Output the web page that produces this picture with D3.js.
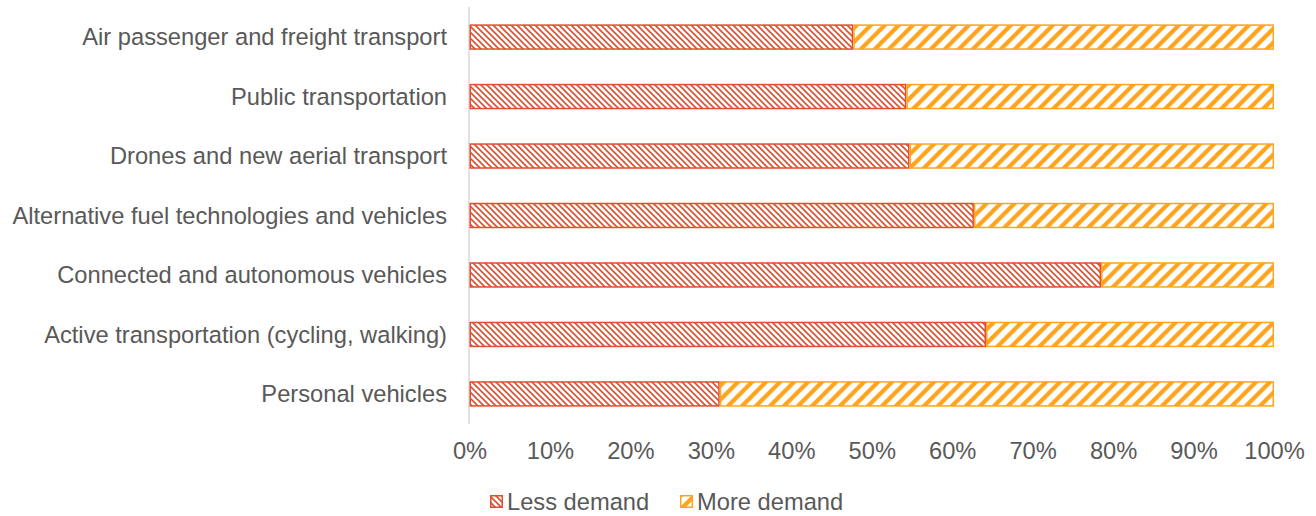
<!DOCTYPE html>
<html><head><meta charset="utf-8">
<script src="https://cdn.jsdelivr.net/npm/d3@7"></script>
<style>body{margin:0;background:#fff}svg{display:block}text{font-family:"Liberation Sans",Arial,sans-serif;fill:#595959}</style>
</head><body>
<svg id="c" width="1316" height="516"></svg>
<script>
const categories = ["Air passenger and freight transport","Public transportation","Drones and new aerial transport","Alternative fuel technologies and vehicles","Connected and autonomous vehicles","Active transportation (cycling, walking)","Personal vehicles"];
const lessDemand = [47.7, 54.3, 54.7, 62.7, 78.5, 64.2, 31.1];
const moreDemand = lessDemand.map(v => 100 - v);
const tickValues = [0,10,20,30,40,50,60,70,80,90,100];
const seriesNames = ["Less demand","More demand"];
const colors = ["#E14E2E","#FFA41C"];
const FS = 23.7;

const svg = d3.select("#c");
const defs = svg.append("defs");
const p1 = defs.append("pattern").attr("id","pLess").attr("patternUnits","userSpaceOnUse").attr("width",6).attr("height",6);
p1.append("rect").attr("width",6).attr("height",6).attr("fill","#fff");
p1.append("path").attr("d","M-1,-1 L7,7 M-4,2 L2,8 M2,-4 L8,2").attr("stroke",colors[0]).attr("stroke-width",1.6);
const p2 = defs.append("pattern").attr("id","pMore").attr("patternUnits","userSpaceOnUse").attr("width",14).attr("height",14);
p2.append("rect").attr("width",14).attr("height",14).attr("fill","#fff");
p2.append("path").attr("d","M-2,16 L16,-2 M-9,9 L9,-9 M5,23 L23,5").attr("stroke",colors[1]).attr("stroke-width",4.2);
const fills = ["url(#pLess)","url(#pMore)"];

const x = d3.scaleLinear().domain([0,100]).range([469.5,1274]);
const y = d3.scaleBand().domain(categories).range([7.25,423.75]).paddingInner(0.597).paddingOuter(0.3);

const stack = categories.map((c,i)=>({c, vals:[lessDemand[i], moreDemand[i]]}));

svg.append("line").attr("x1",469).attr("x2",469).attr("y1",7).attr("y2",424).attr("stroke","#d9d9d9").attr("stroke-width",1.5);

stack.forEach(d=>{
  let acc = 0;
  d.vals.forEach((v,k)=>{
    svg.append("rect")
      .attr("x", x(acc)+0.75).attr("y", y(d.c))
      .attr("width", x(acc+v)-x(acc)-1.5).attr("height", y.bandwidth())
      .attr("fill", fills[k]).attr("stroke", colors[k]).attr("stroke-width",1.5);
    acc += v;
  });
});

svg.append("g").selectAll("text").data(categories).join("text")
  .attr("x",447).attr("y",d=>y(d)+y.bandwidth()/2).attr("dy","0.35em")
  .attr("text-anchor","end").attr("font-size",FS).text(d=>d);

const xa = svg.append("g").attr("transform","translate(0,430)")
  .call(d3.axisBottom(x).tickValues(tickValues).tickFormat(d=>d+"%").tickSize(0).tickPadding(12));
xa.select(".domain").remove();
xa.selectAll("text").attr("font-size",FS).attr("fill","#595959").attr("font-family","Liberation Sans, Arial, sans-serif");

const leg = svg.append("g");
const legX = [490, 680];
seriesNames.forEach((n,k)=>{
  leg.append("rect").attr("x",legX[k]+0.75).attr("y",495.75).attr("width",11.5).attr("height",11.5)
    .attr("fill",fills[k]).attr("stroke",colors[k]).attr("stroke-width",1.5);
  leg.append("text").attr("x",legX[k]+17).attr("y",502).attr("dy","0.35em").attr("font-size",FS).text(n);
});
</script>
</body></html>
